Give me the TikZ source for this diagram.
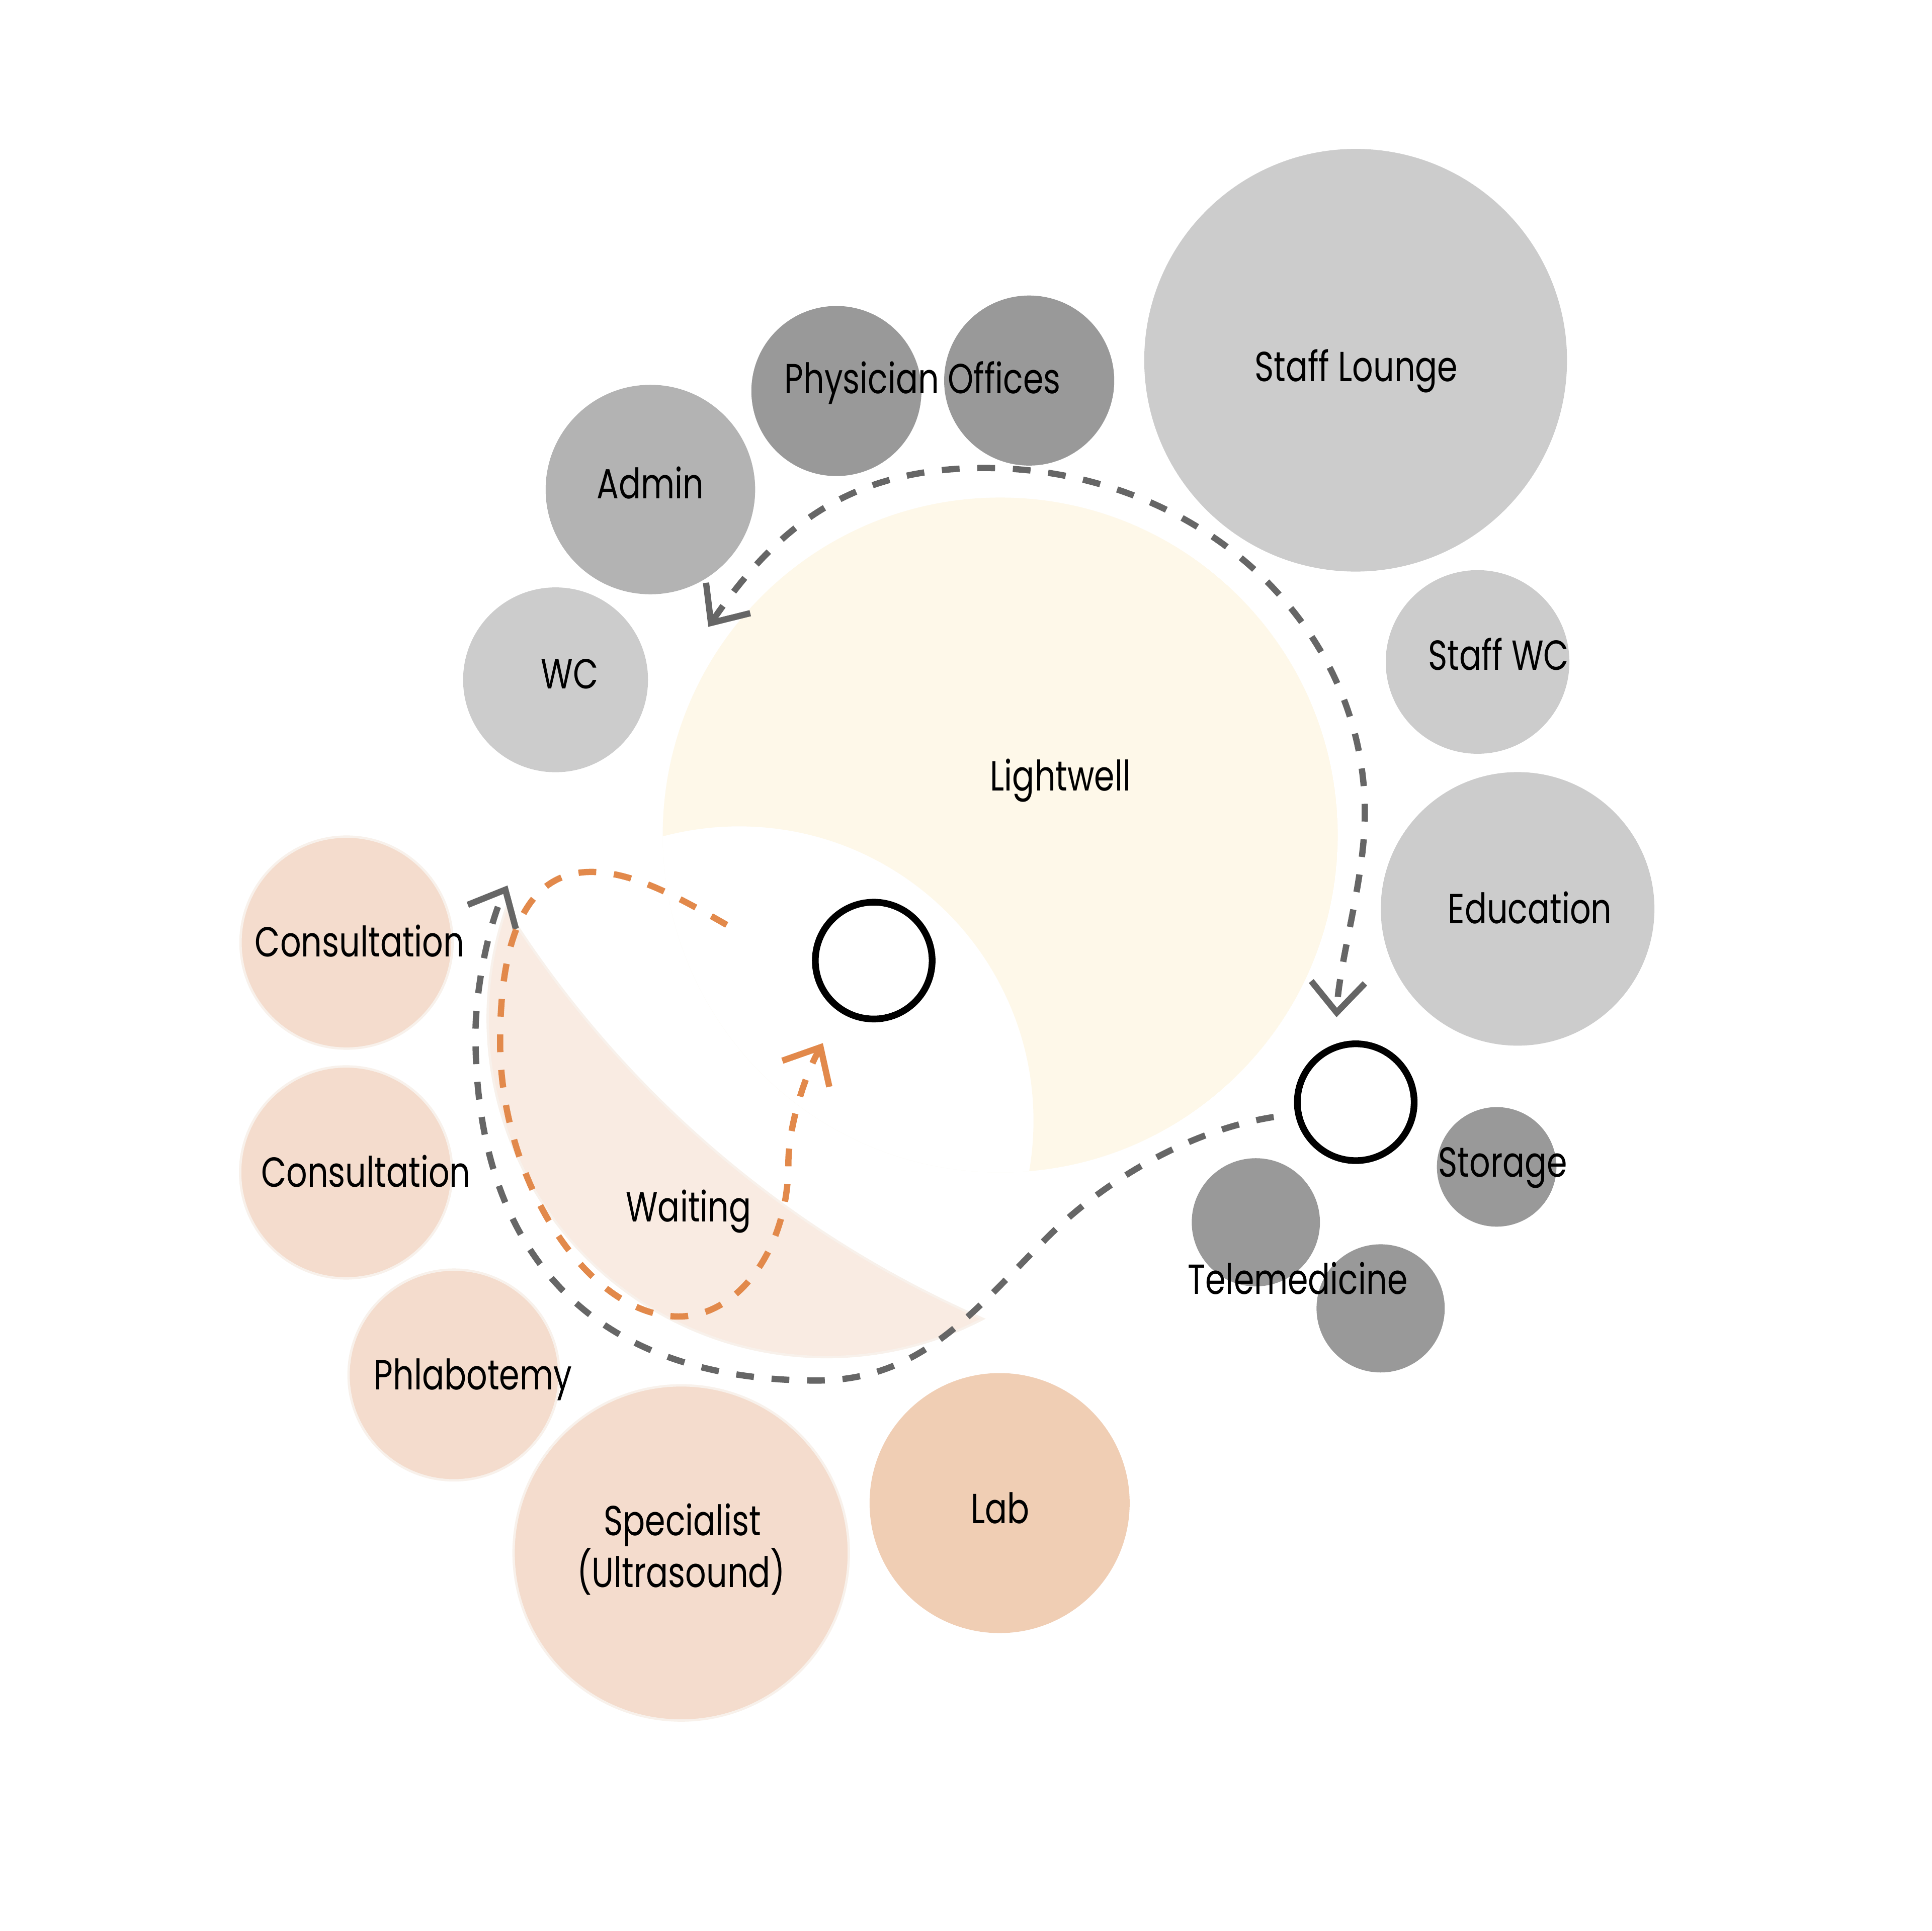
\documentclass[tikz,border=0pt]{standalone}
\usepackage{fontspec}
\setmainfont{Poppins}[FakeStretch=0.78]
\usetikzlibrary{arrows.meta}
\definecolor{roomlight}{HTML}{CCCCCC}
\definecolor{roommid}{HTML}{B3B3B3}
\definecolor{roomdark}{HTML}{999999}
\definecolor{peach}{HTML}{F4DCCD}
\definecolor{labc}{HTML}{F0CEB4}
\definecolor{lightwellc}{HTML}{FEF8E9}
\definecolor{waitc}{HTML}{F9EBE2}
\definecolor{rimc}{HTML}{F8F1EB}
\definecolor{flowgray}{HTML}{666666}
\definecolor{floworange}{HTML}{E2894B}
\begin{document}
\begin{tikzpicture}[x=0.01cm, y=-0.01cm,
  room/.style={circle, inner sep=0pt, outer sep=0pt, draw=none},
  peachroom/.style={room, fill=peach, draw=rimc, line width=0.55pt},
  lbl/.style={inner sep=0pt, anchor=base, font=\fontsize{9.7}{11.6}\selectfont},
  hub/.style={circle, draw=black, line width=1.55pt, fill=white, inner sep=0pt, outer sep=0pt, minimum size=0.948cm},
  flow/.style={line width=1.45pt, dash pattern=on 4.1pt off 4.1pt, line cap=butt},
  barb/.tip={Straight Barb[length=7pt, width=12.4pt]}
]
\useasboundingbox (0,0) rectangle (1568,1568);
\fill[white] (0,0) rectangle (1568,1568);

% Lightwell crescent
\begin{scope}
  \clip (812,678) circle (274);
  \fill[lightwellc, even odd rule] (812,678) circle (274) (600,910) circle (239);
\end{scope}
% Waiting lens
\path[fill=waitc, draw=rimc, line width=0.55pt] (410.8,737.9)
  arc[start angle=198.9, end angle=62.5, radius=275]
  arc[start angle=113.6, end angle=147.6, radius=868] -- cycle;

% rooms
\node[room, fill=roomlight, minimum size=3.43cm] (lounge) at (1100.5,292.5) {};
\node[room, fill=roomlight, minimum size=1.49cm] (staffwc) at (1199.5,537.5) {};
\node[room, fill=roomlight, minimum size=2.22cm] (edu) at (1232,738) {};
\node[room, fill=roomlight, minimum size=1.50cm] (wc) at (451,552) {};
\node[room, fill=roommid, minimum size=1.70cm] (admin) at (528,397.5) {};
\node[room, fill=roomdark, minimum size=1.38cm] (phys1) at (679,317.5) {};
\node[room, fill=roomdark, minimum size=1.38cm] (phys2) at (835.5,309) {};
\node[room, fill=roomdark, minimum size=0.97cm] (storage) at (1215,947.5) {};
\node[room, fill=roomdark, minimum size=1.04cm] (tele1) at (1019.5,992.5) {};
\node[room, fill=roomdark, minimum size=1.04cm] (tele2) at (1120.8,1062.4) {};
\node[peachroom, minimum size=1.72cm] (cons1) at (281.3,765.4) {};
\node[peachroom, minimum size=1.72cm] (cons2) at (281,952) {};
\node[peachroom, minimum size=1.71cm] (phlab) at (368.5,1116.5) {};
\node[peachroom, minimum size=2.72cm] (spec) at (553,1261) {};
\node[room, fill=labc, minimum size=2.11cm] (lab) at (811.5,1220.5) {};

% hubs
\node[hub] (hubA) at (709.3,780) {};
\node[hub] (hubB) at (1100.6,895) {};

% flows
\coordinate (gA) at (575,509);
\coordinate (gTop) at (799,380);
\coordinate (gRight) at (1108,660);
\coordinate (gB) at (1085,826);
\draw[flow, draw=flowgray, barb-barb] (gA) .. controls (630,429) and (689,380) .. (gTop)
  .. controls (970,380) and (1108,505) .. (gRight)
  .. controls (1108,715) and (1087,780) .. (gB);

\coordinate (hS) at (1034,907);
\coordinate (hM) at (850,1005);
\coordinate (hBot) at (663,1121);
\coordinate (hL) at (386,840);
\coordinate (hE) at (412,719);
\draw[flow, draw=flowgray, -barb] (hS) .. controls (964,918) and (895,960) .. (hM)
  .. controls (790,1065) and (748,1121) .. (hBot)
  .. controls (488,1121) and (386,1025) .. (hL)
  .. controls (386,800) and (398,747) .. (hE);

\coordinate (oS) at (590,751);
\coordinate (oTop) at (480,708);
\coordinate (oL) at (406,846);
\coordinate (oBot) at (551,1069);
\coordinate (oR) at (640,945);
\coordinate (oE) at (668,847);
\draw[flow, draw=floworange, -barb] (oS) .. controls (553,730) and (515,708) .. (oTop)
  .. controls (430,708) and (406,756) .. (oL)
  .. controls (406,960) and (478,1069) .. (oBot)
  .. controls (600,1069) and (640,1013) .. (oR)
  .. controls (640,915) and (653,874) .. (oE);

% labels
\node[lbl] (tLounge) at (1101,309.5) {Staff Lounge};
\node[lbl] (tPhys) at (749,319.5) {Physician Offices};
\node[lbl] (tAdmin) at (528,405) {Admin};
\node[lbl] (tWC) at (462.5,559) {WC};
\node[lbl] (tStaffWC) at (1216.5,544) {Staff WC};
\node[lbl] (tLight) at (861,642) {Lightwell};
\node[lbl] (tEdu) at (1242,750) {Education};
\node[lbl] (tCons1) at (292,777) {Consultation};
\node[lbl] (tCons2) at (297,964) {Consultation};
\node[lbl] (tWait) at (559,992) {Waiting};
\node[lbl] (tStor) at (1220,955.5) {Storage};
\node[lbl] (tTele) at (1053.5,1051) {Telemedicine};
\node[lbl] (tPhlab) at (384,1128.5) {Phlabotemy};
\node[lbl] (tSpec) at (554,1247) {Specialist};
\node[lbl] (tUltra) at (553,1289) {(Ultrasound)};
\node[lbl] (tLab) at (812,1237) {Lab};
\end{tikzpicture}
\end{document}
